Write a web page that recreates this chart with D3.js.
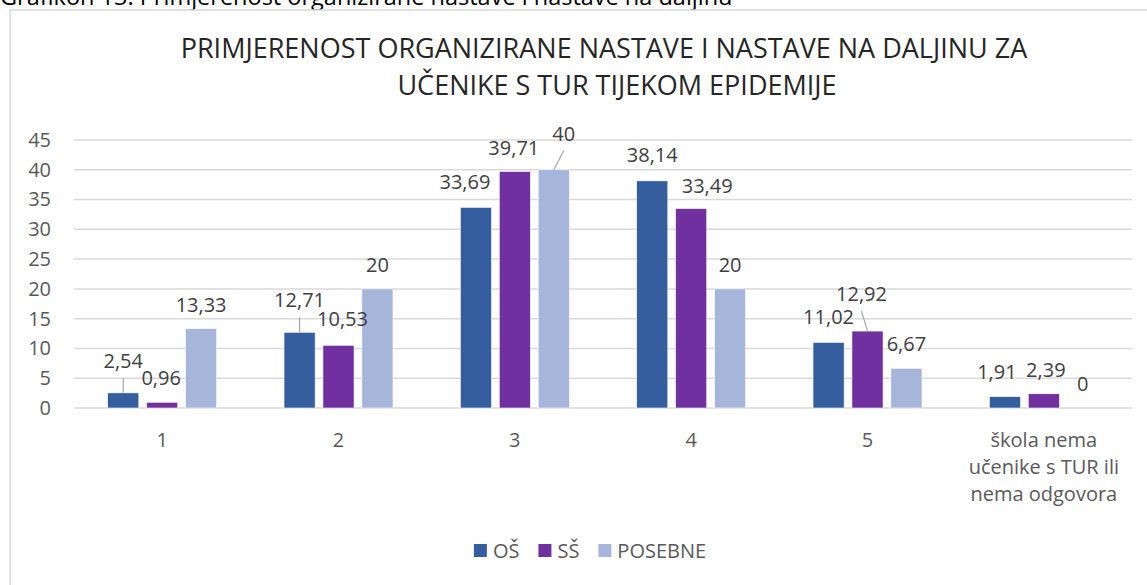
<!DOCTYPE html>
<html>
<head>
<meta charset="utf-8">
<script src="https://cdn.jsdelivr.net/npm/d3@7"></script>
<style>
body { margin: 0; background: #fff; }
text { font-family: "Open Sans", "DejaVu Sans", sans-serif; }
</style>
</head>
<body>
<div id="chart"></div>
<script>
// data
let categories = ["1", "2", "3", "4", "5", "škola nema|učenike s TUR ili|nema odgovora"]
let seriesNames = ["OŠ", "SŠ", "POSEBNE"]
let valuesOS = [2.54, 12.71, 33.69, 38.14, 11.02, 1.91]
let valuesSS = [0.96, 10.53, 39.71, 33.49, 12.92, 2.39]
let valuesPosebne = [13.33, 20, 40, 20, 6.67, 0]
let yTicks = [0, 5, 10, 15, 20, 25, 30, 35, 40, 45]
let titleLines = ["PRIMJERENOST ORGANIZIRANE NASTAVE I NASTAVE NA DALJINU ZA", "UČENIKE S TUR TIJEKOM EPIDEMIJE"]
let caption = "Grafikon 13. Primjerenost organizirane nastave i nastave na daljinu"

let colors = ["#355e9f", "#7030a0", "#a6b5da"]

// label nudges (px) like excel's best-fit placement; leader = draw leader line
let labelNudge = [
    [[0,-8,1],[0,-8,1],[-11,-1,0],[0,-2,0],[0,-1,0],[-8,-1,0]],
    [[-1,0,0],[4,-2,0],[-1,0,0],[16,1,0],[-6,-13,1],[2,0,0]],
    [[0,0,0],[0,0,0],[10,-12,1],[0,0,0],[0,0,0],[0,0,0]]
]

let W = 1147, H = 585
let svg = d3.select("div#chart").append("svg")
    .attr("width", W)
    .attr("height", H)

// caption, cut at the top like in the original screenshot
svg.append("text")
    .attr("x", 0).attr("y", 5)
    .style("font-size", "23.5px")
    .style("fill", "#000")
    .text(caption)

// chart frame
svg.append("rect")
    .attr("x", 10).attr("y", 10)
    .attr("width", 1200).attr("height", 620)
    .style("fill", "#fff")
    .style("stroke", "#d9d9d9")
    .style("stroke-width", 1.5)

let title = svg.append("text")
    .attr("text-anchor", "middle")
    .style("font-size", "27px")
    .style("fill", "#262626")
let titleX = [604, 617]
titleLines.forEach((t, i) => {
    title.append("tspan").attr("x", titleX[i]).attr("y", 58 + i * 37).text(t)
})

let plotL = 74, plotR = 1132
let y = d3.scaleLinear().domain([0, 45]).range([408, 140])
let x0 = d3.scaleBand().domain(d3.range(categories.length)).range([plotL, plotR])
    .paddingInner(0.382).paddingOuter(0.191)
let x1 = d3.scaleBand().domain(d3.range(seriesNames.length)).range([0, x0.bandwidth()])
    .paddingInner(0.2)

// grid
svg.append("g").selectAll("line").data(yTicks).enter().append("line")
    .attr("x1", plotL).attr("x2", plotR)
    .attr("y1", d => y(d)).attr("y2", d => y(d))
    .style("stroke", "#d9d9d9")
    .style("stroke-width", 1.5)

// y axis labels
let yAxis = d3.axisLeft(y).tickValues(yTicks).tickSize(0).tickPadding(0)
let ya = svg.append("g").attr("transform", "translate(51,0)").call(yAxis)
ya.select(".domain").remove()
ya.selectAll("text")
    .style("font-size", "20px")
    .style("font-family", "'Open Sans', sans-serif")
    .style("fill", "#595959")

// x category labels
categories.forEach((c, i) => {
    let t = svg.append("text")
        .attr("text-anchor", "middle")
        .style("font-size", "20px")
        .style("fill", "#595959")
    c.split("|").forEach((line, j) => {
        t.append("tspan").attr("x", x0(i) + x0.bandwidth() / 2).attr("y", 447 + j * 27).text(line)
    })
})

let allSeries = [valuesOS, valuesSS, valuesPosebne]

// bars
allSeries.forEach((vals, s) => {
    svg.append("g").selectAll("rect").data(vals).enter().append("rect")
        .attr("x", (d, i) => x0(i) + x1(s))
        .attr("y", d => y(d))
        .attr("width", x1.bandwidth())
        .attr("height", d => y(0) - y(d))
        .style("fill", colors[s])
        .style("stroke", "#fff")
        .style("stroke-width", 0.6)
})

// data labels
allSeries.forEach((vals, s) => {
    vals.forEach((v, i) => {
        let bx = x0(i) + x1(s) + x1.bandwidth() / 2
        let top = y(v)
        let nd = labelNudge[s][i]
        let lx = bx + nd[0]
        let lcy = top - 24 + nd[1]
        if (nd[2]) {
            svg.append("line")
                .attr("x1", bx).attr("y1", top)
                .attr("x2", lx).attr("y2", lcy + 17)
                .style("stroke", "#a6a6a6")
                .style("stroke-width", 1.2)
        }
        svg.append("text")
            .attr("x", lx).attr("y", lcy + 7)
            .attr("text-anchor", "middle")
            .style("font-size", "20px")
            .style("fill", "#404040")
            .text(String(v).replace(".", ","))
    })
})

// legend
let lg = svg.append("g")
let cx = 0
seriesNames.forEach((n, s) => {
    lg.append("rect").attr("x", cx).attr("y", 544).attr("width", 13).attr("height", 13)
        .style("fill", colors[s])
    let t = lg.append("text").attr("x", cx + 19).attr("y", 558)
        .style("font-size", "20px").style("fill", "#595959").text(n)
    cx += 19 + t.node().getComputedTextLength() + 19
})
let lw = cx - 19
lg.attr("transform", "translate(" + (590 - lw / 2) + ",0)")
</script>
</body>
</html>
